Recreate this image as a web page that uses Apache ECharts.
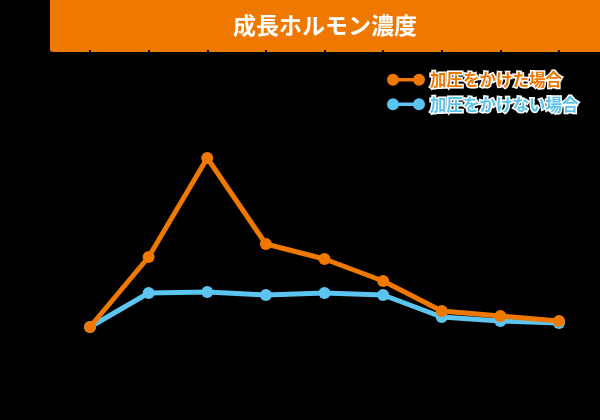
<!DOCTYPE html>
<html>
<head>
<meta charset="utf-8">
<script src="https://cdn.jsdelivr.net/npm/echarts@6/dist/echarts.min.js"></script>
<style>
html,body{margin:0;padding:0;background:#000;}
#chart{width:600px;height:420px;}
</style>
</head>
<body>
<div id="chart"></div>
<script>
const titleText = '成長ホルモン濃度';
const categories = ['1','2','3','4','5','6','7','8','9'];
const seriesNames = ['加圧をかけた場合', '加圧をかけない場合'];
const pressured = [3.3, 10.3, 20.2, 11.6, 10.1, 7.9, 4.9, 4.4, 3.9];
const unpressured = [3.3, 6.7, 6.8, 6.5, 6.7, 6.5, 4.3, 3.9, 3.7];

const ORANGE = '#EE7800';
const BLUE = '#5BC4F0';
const FONT = '"Noto Sans CJK JP", "Noto Sans", sans-serif';
const legendIcon = 'path://M0,6A6,6 0 1,1 12,6A6,6 0 1,1 0,6Z M26,6A6,6 0 1,1 38,6A6,6 0 1,1 26,6Z M6,4.2L32,4.2L32,7.8L6,7.8Z';

const chart = echarts.init(document.getElementById('chart'));
chart.setOption({
  backgroundColor: '#000',
  animation: false,
  graphic: [{
    type: 'group',
    z: 0,
    children: [{
      type: 'rect',
      shape: { x: 50, y: -5, width: 555, height: 57, r: [0, 0, 0, 3] },
      style: { fill: ORANGE }
    }, {
      type: 'text',
      x: 325, y: 25,
      style: {
        text: titleText,
        fill: '#fff',
        font: 'bold 23px ' + FONT,
        align: 'center',
        verticalAlign: 'middle'
      }
    }]
  }],
  legend: {
    orient: 'vertical',
    left: 382,
    top: 65,
    itemWidth: 38,
    itemHeight: 12,
    itemGap: 5,
    data: [
      { name: seriesNames[0], icon: legendIcon,
        itemStyle: { color: ORANGE, borderWidth: 0 },
        textStyle: { color: ORANGE } },
      { name: seriesNames[1], icon: legendIcon,
        itemStyle: { color: BLUE, borderWidth: 0 },
        textStyle: { color: BLUE } }
    ],
    textStyle: {
      fontFamily: FONT,
      fontWeight: 'bold',
      fontSize: 16.5,
      lineHeight: 18,
      textBorderColor: '#fff',
      textBorderWidth: 3
    }
  },
  grid: { left: 90, right: 41, top: 50, bottom: 60 },
  xAxis: {
    type: 'category',
    data: categories,
    boundaryGap: false,
    z: 1,
    axisLine: { show: false },
    axisTick: { show: false },
    axisLabel: { show: false },
    splitLine: { show: true, lineStyle: { color: '#000', width: 2 } }
  },
  yAxis: {
    type: 'value',
    min: 0,
    max: 31,
    axisLine: { show: false },
    axisTick: { show: false },
    axisLabel: { show: false },
    splitLine: { show: false }
  },
  series: [{
    name: seriesNames[1],
    type: 'line',
    data: unpressured,
    symbol: 'circle',
    symbolSize: 12,
    z: 3,
    lineStyle: { color: BLUE, width: 5 },
    itemStyle: { color: BLUE, borderWidth: 0 }
  }, {
    name: seriesNames[0],
    type: 'line',
    data: pressured,
    symbol: 'circle',
    symbolSize: 12,
    z: 4,
    lineStyle: { color: ORANGE, width: 5 },
    itemStyle: { color: ORANGE, borderWidth: 0 }
  }]
});
</script>
</body>
</html>
